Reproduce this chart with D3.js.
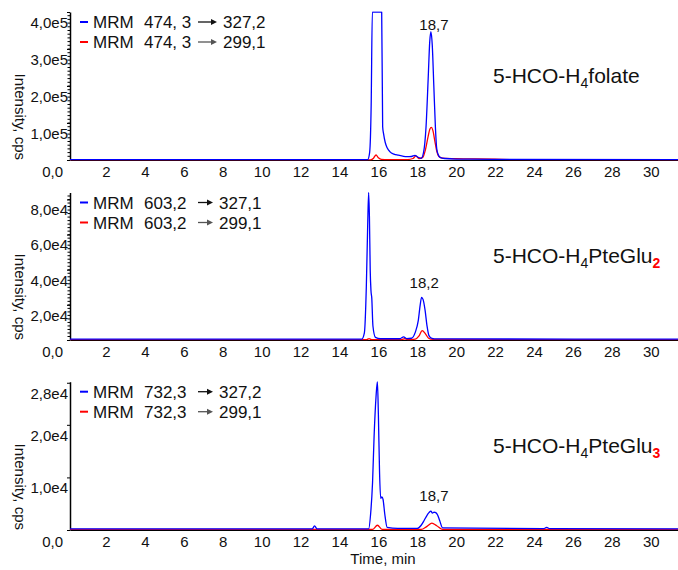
<!DOCTYPE html>
<html>
<head>
<meta charset="utf-8">
<script src="https://cdn.jsdelivr.net/npm/d3@7/dist/d3.min.js"></script>
<style>
  html, body { margin: 0; padding: 0; background: #fff; }
  svg { display: block; font-family: "Liberation Sans", Arial, sans-serif; }
  .tick text { font-size: 15px; fill: #111; }
</style>
</head>
<body>
<svg id="chart" width="678" height="570"></svg>
<script>
// Retention time axis (minutes)
const timeDomain = [0.15, 31.4];
const timeTicks = [2, 4, 6, 8, 10, 12, 14, 16, 18, 20, 22, 24, 26, 28, 30];

// 5-HCO-H4folate, MRM 474,3 -> 327,2 (blue) and -> 299,1 (red): [time, cps]
const folateQuantifier = [
  [0.15, 1000], [15.45, 1000], [15.55, 20000], [15.63, 150000], [15.69, 400000],
  [16.17, 400000], [16.22, 90000], [16.27, 70000], [16.35, 48000], [16.45, 33000],
  [16.6, 22000], [16.8, 16000], [17.02, 13000], [17.25, 10500], [17.46, 9000],
  [17.7, 9500], [17.88, 12500], [18.02, 8000], [18.2, 4600], [18.32, 20000],
  [18.45, 90000], [18.56, 220000], [18.64, 320000], [18.7, 347000], [18.77, 310000],
  [18.85, 200000], [18.93, 90000], [19.0, 30000], [19.08, 14000], [19.17, 7000],
  [19.4, 4000], [20.0, 2500], [22.0, 1800], [31.4, 1200]
];
const folateQualifier = [
  [0.15, 500], [15.6, 500], [15.75, 5000], [15.88, 13500], [16.0, 6000],
  [16.15, 1500], [16.5, 1000], [17.5, 1000], [17.78, 4000], [17.93, 11000],
  [18.08, 4000], [18.28, 7000], [18.42, 28000], [18.55, 62000], [18.65, 84000],
  [18.72, 88000], [18.8, 80000], [18.9, 52000], [19.0, 24000], [19.1, 10000],
  [19.3, 5000], [20.0, 3500], [21.0, 3000], [22.0, 2000], [23.0, 1000], [31.4, 500]
];

// 5-HCO-H4PteGlu2, MRM 603,2 -> 327,1 (blue) and -> 299,1 (red)
const glu2Quantifier = [
  [0.15, 500], [15.15, 500], [15.28, 4000], [15.38, 30000], [15.45, 65000],
  [15.5, 84000], [15.54, 70000], [15.58, 40000], [15.62, 28000], [15.66, 24000],
  [15.72, 8000], [15.85, 1500], [16.1, 700], [17.1, 700], [17.3, 1800],
  [17.45, 800], [17.7, 1000], [17.9, 4500], [18.05, 11000], [18.15, 20000],
  [18.22, 24300], [18.3, 23000], [18.4, 17000], [18.5, 8000], [18.6, 2500],
  [18.75, 900], [19.0, 600], [31.4, 500]
];
const glu2Qualifier = [
  [0.15, 200], [15.4, 200], [15.52, 800], [15.65, 200], [17.2, 200],
  [17.35, 700], [17.5, 200], [17.9, 500], [18.08, 2200], [18.25, 5300],
  [18.42, 3500], [18.58, 1000], [18.8, 300], [31.4, 200]
];

// 5-HCO-H4PteGlu3, MRM 732,3 -> 327,2 (blue) and -> 299,1 (red)
const glu3Quantifier = [
  [0.15, 200], [12.6, 200], [12.72, 800], [12.85, 200], [15.5, 200],
  [15.6, 3000], [15.7, 9000], [15.78, 17800], [15.88, 25400], [15.95, 28200],
  [16.0, 22000], [16.06, 11000], [16.12, 6000], [16.18, 6300], [16.24, 5800],
  [16.33, 3000], [16.45, 500], [17.0, 300], [18.0, 300], [18.2, 900],
  [18.35, 1800], [18.5, 2800], [18.6, 3300], [18.7, 3600], [18.78, 3200],
  [18.86, 3400], [18.95, 3300], [19.05, 2800], [19.15, 1800], [19.3, 400],
  [24.5, 250], [24.65, 500], [24.8, 250], [31.4, 200]
];
const glu3Qualifier = [
  [0.15, 100], [15.7, 100], [15.95, 900], [16.2, 100], [18.2, 100],
  [18.5, 700], [18.75, 1300], [19.0, 800], [19.3, 100], [31.4, 100]
];

// Intensity axes
const intensityMax = [4.0e5, 8.4e4, 2.82e4];
const intensityTicks = [
  [0, 1e5, 2e5, 3e5, 4e5],
  [0, 2e4, 4e4, 6e4, 8e4],
  [0, 1e4, 2e4, 2.8e4]
];
const intensityTickLabels = [
  ["0,0", "1,0e5", "2,0e5", "3,0e5", "4,0e5"],
  ["0,0", "2,0e4", "4,0e4", "6,0e4", "8,0e4"],
  ["0,0", "1,0e4", "2,0e4", "2,8e4"]
];
const minorStep = [1e4, 2e3, null];

// Legends and annotations
const precursorIons = ["474, 3", "603,2", "732,3"];
const productIons = [["327,2", "299,1"], ["327,1", "299,1"], ["327,2", "299,1"]];
const peakTimes = [18.7, 18.2, 18.7];
const peakTimeLabels = ["18,7", "18,2", "18,7"];
const compoundSuffix = ["folate", "PteGlu", "PteGlu"];
const compoundIndex = [null, "2", "3"];

const traces = [
  [folateQuantifier, folateQualifier],
  [glu2Quantifier, glu2Qualifier],
  [glu3Quantifier, glu3Qualifier]
];

// Panel geometry
const plotLeft = 70, plotRight = 678;
const panels = [
  { top: 12, base: 160, legendShift: 0, peakGap: 2 },
  { top: 192.5, base: 340, legendShift: -4, peakGap: 9 },
  { top: 381.7, base: 530, legendShift: -4, peakGap: 10 }
];
const traceColors = ["#0000ff", "#ff0000"];
const arrowColors = ["#111", "#555"];

const svg = d3.select("#chart");
const x = d3.scaleLinear().domain(timeDomain).range([plotLeft, plotRight]);

const defs = svg.append("defs");

panels.forEach((p, i) => {
  const y = d3.scaleLinear().domain([0, intensityMax[i]]).range([p.base, p.top]);
  const g = svg.append("g");

  defs.append("clipPath").attr("id", "clip" + i)
    .append("rect")
    .attr("x", plotLeft).attr("y", p.top - 0.5)
    .attr("width", plotRight - plotLeft).attr("height", p.base - p.top + 1);

  // baseline / time axis
  const xAxis = g.append("g")
    .attr("transform", `translate(0,${p.base})`)
    .call(d3.axisBottom(x).tickValues(timeTicks).tickSize(0).tickSizeOuter(0)
      .tickFormat(d3.format("d")));
  xAxis.select(".domain").attr("stroke", "#000").attr("stroke-width", 1.2);
  xAxis.selectAll(".tick text").attr("y", 12).attr("dy", "0.35em");

  // minor intensity ticks
  if (minorStep[i]) {
    const minors = d3.range(minorStep[i], intensityMax[i], minorStep[i]);
    g.append("g").selectAll("line").data(minors).join("line")
      .attr("x1", plotLeft - 2.5).attr("x2", plotLeft)
      .attr("y1", d => y(d)).attr("y2", d => y(d))
      .attr("stroke", "#000").attr("stroke-width", 1);
  }

  // intensity axis
  const yAxis = g.append("g")
    .attr("transform", `translate(${plotLeft},0)`)
    .call(d3.axisLeft(y).tickValues(intensityTicks[i]).tickSize(3).tickSizeOuter(0)
      .tickFormat((d, k) => intensityTickLabels[i][k]));
  yAxis.select(".domain").attr("stroke", "#000").attr("stroke-width", 1.5);
  yAxis.selectAll(".tick line").attr("stroke", "#000");
  yAxis.selectAll(".tick text")
    .attr("x", d => d === 0 ? -7 : -2)
    .attr("y", d => d === 0 ? 11 : 10)
    .attr("dy", "0.35em");

  // chromatogram traces, qualifier first so the quantifier sits on top
  const line = d3.line().x(d => x(d[0])).y(d => y(d[1])).curve(d3.curveMonotoneX);
  const plot = g.append("g").attr("clip-path", `url(#clip${i})`);
  [1, 0].forEach(k => {
    plot.append("path")
      .datum(traces[i][k])
      .attr("d", line)
      .attr("fill", "none")
      .attr("stroke", traceColors[k])
      .attr("stroke-width", 1.3)
      .attr("stroke-linejoin", "round");
  });

  // y-axis title
  g.append("text")
    .attr("transform", `translate(15,${p.base}) rotate(90)`)
    .attr("text-anchor", "end")
    .attr("font-size", 15)
    .attr("fill", "#111")
    .text("Intensity, cps");

  // legend
  const legend = g.append("g").attr("font-size", 17).attr("fill", "#111");
  productIons[i].forEach((prod, k) => {
    const by = p.top + 16 + k * 20;
    legend.append("line")
      .attr("x1", 80).attr("x2", 88).attr("y1", by - 6).attr("y2", by - 6)
      .attr("stroke", traceColors[k]).attr("stroke-width", 2);
    legend.append("text").attr("x", 93).attr("y", by).text("MRM");
    legend.append("text").attr("x", 144).attr("y", by).text(precursorIons[i]);
    const ax0 = 198, ax1 = 217 + p.legendShift;
    legend.append("line")
      .attr("x1", ax0).attr("x2", ax1 - 5).attr("y1", by - 6).attr("y2", by - 6)
      .attr("stroke", arrowColors[k]).attr("stroke-width", 1.3);
    legend.append("path")
      .attr("d", `M${ax1},${by - 6} L${ax1 - 6},${by - 9} L${ax1 - 6},${by - 3} Z`)
      .attr("fill", arrowColors[k]);
    legend.append("text").attr("x", 222 + p.legendShift + 1).attr("y", by).text(prod);
  });

  // retention time label above the quantifier peak
  const apex = d3.max(traces[i][0].filter(d => Math.abs(d[0] - peakTimes[i]) < 0.3), d => d[1]);
  g.append("text")
    .attr("x", x(peakTimes[i]) + 3)
    .attr("y", y(apex) - p.peakGap)
    .attr("text-anchor", "middle")
    .attr("font-size", 15)
    .attr("fill", "#111")
    .text(peakTimeLabels[i]);

  // compound name
  const name = g.append("text")
    .attr("x", 493).attr("y", p.base - 77)
    .attr("font-size", 21).attr("fill", "#111");
  name.append("tspan").text("5-HCO-H");
  name.append("tspan").attr("font-size", 14).attr("dy", 5).text("4");
  name.append("tspan").attr("dy", -5).text(compoundSuffix[i]);
  if (compoundIndex[i]) {
    name.append("tspan").attr("font-size", 14).attr("dy", 5)
      .attr("fill", "#ff0000").attr("font-weight", "bold").text(compoundIndex[i]);
  }
});

// time axis title
svg.append("text")
  .attr("x", 383).attr("y", 564)
  .attr("text-anchor", "middle")
  .attr("font-size", 15)
  .attr("fill", "#111")
  .text("Time, min");
</script>
</body>
</html>
